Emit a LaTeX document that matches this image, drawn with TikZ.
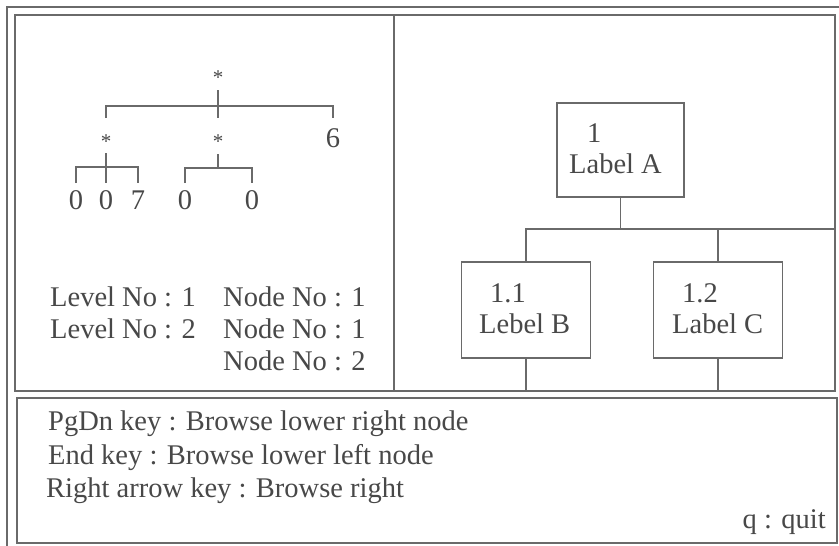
\documentclass[tikz,border=0pt]{standalone}
\usepackage{fontspec}
\setmainfont{Liberation Serif}
\usetikzlibrary{calc}
\definecolor{inkc}{HTML}{484848}
\definecolor{linec}{HTML}{6A6A6A}
\tikzset{
  ln/.style={draw=linec, line width=1.8pt},
  frame/.style={draw=linec, line width=1.8pt},
  txt/.style={text=inkc, font=\fontsize{28.5}{32}\selectfont, inner sep=0pt, anchor=base west},
  dig/.style={text=inkc, font=\fontsize{28.5}{32}\selectfont, inner sep=0pt, anchor=base},
  ast/.style={text=inkc, font=\fontsize{21}{22}\selectfont, inner sep=0pt, anchor=base},
  box/.style={draw=linec, line width=1.8pt, rectangle, inner sep=0pt}
}
\begin{document}
\begin{tikzpicture}[x=1pt,y=-1pt]
\useasboundingbox (0,0) rectangle (839,546);
% outer frame lines
\draw[frame] (7,546) -- (7,7) -- (839,7);
% panels
\draw[frame] (15,15) rectangle (835,391);
\draw[frame] (17,398) rectangle (837,543);
\draw[frame] (394,15) -- (394,391);
\coordinate (pb) at (0,391);
\coordinate (pr) at (835,0);

% ---- left tree ----
\node[ast] (r)  at (218,84) {*};
\node[ast] (m1) at (106,148) {*};
\node[ast] (m2) at (218,148) {*};
\node[dig] (six) at (333,147) {6};
\node[dig] (z1) at (76,209) {0};
\node[dig] (z2) at (106,209) {0};
\node[dig] (z3) at (138,209) {7};
\node[dig] (z4) at (185,209) {0};
\node[dig] (z5) at (252,209) {0};
\coordinate (b1) at (0,106);
\coordinate (b2) at (0,167);
\coordinate (b3) at (0,168);
\coordinate (t1) at (0,118);
\coordinate (t2) at (0,183);
% root
\draw[ln] (r.south |- 0,90) -- (r.south |- t1);
\draw[ln] (m1.north |- t1) -- (m1.north |- b1) -- (six.north |- b1) -- (six.north |- t1);
% sub tree 1
\draw[ln] (m1.south |- 0,153) -- (m1.south |- t2);
\draw[ln] (z1.north |- t2) -- (z1.north |- b2) -- (z3.north |- b2) -- (z3.north |- t2);
% sub tree 2
\draw[ln] (m2.south |- 0,154) -- (m2.south |- b3);
\draw[ln] (z4.north |- t2) -- (z4.north |- b3) -- (z5.north |- b3) -- (z5.north |- t2);

\node[txt] (l1) at (50,306) {Level No : 1};
\node[txt] (l2) at (50,338) {Level No : 2};
\node[txt] (n1) at (223,306) {Node No : 1};
\node[txt] (n2) at (223,338) {Node No : 1};
\node[txt] (n3) at (223,370) {Node No : 2};

% ---- right tree ----
\node[box, minimum width=127pt, minimum height=94pt] (A) at (620.5,150) {};
\node[box, minimum width=129pt, minimum height=96pt] (B) at (526,310) {};
\node[box, minimum width=129pt, minimum height=96pt] (C) at (718,310) {};
\node[txt] (a1) at (587,142) {1};
\node[txt] (a2) at (569,173) {Label A};
\node[txt] (b1t) at (490,302) {1.1};
\node[txt] (b2t) at (479,333) {Lebel B};
\node[txt] (c1t) at (682,302) {1.2};
\node[txt] (c2t) at (672,333) {Label C};
\coordinate (bus) at (0,229);
\draw[ln] (A.south) -- (A.south |- bus);
\draw[ln] (B.north) -- (B.north |- bus) -- (pr |- bus);
\draw[ln] (C.north) -- (C.north |- bus);
\draw[ln] (B.south) -- (B.south |- pb);
\draw[ln] (C.south) -- (C.south |- pb);

% ---- bottom panel ----
\node[txt] (k1) at (48,430) {PgDn key : Browse lower right node};
\node[txt] (k2) at (48,464) {End key : Browse lower left node};
\node[txt] (k3) at (46,497) {Right arrow key : Browse right};
\node[text=inkc, font=\fontsize{28.5}{32}\selectfont, inner sep=0pt, anchor=base east] (q) at (826,528) {q : quit};
\end{tikzpicture}
\end{document}
